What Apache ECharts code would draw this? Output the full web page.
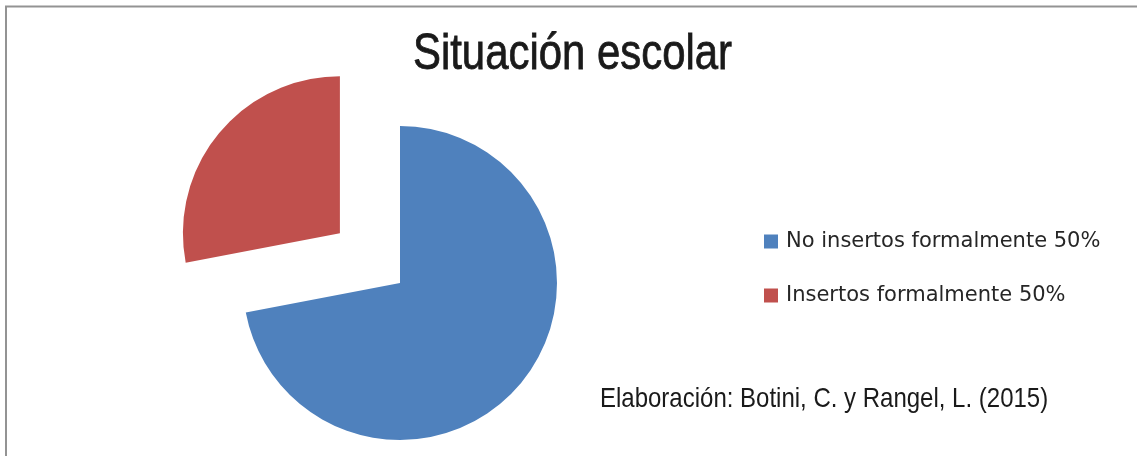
<!DOCTYPE html>
<html>
<head>
<meta charset="utf-8">
<script src="https://cdn.jsdelivr.net/npm/echarts@6/dist/echarts.min.js"></script>
<style>
html,body{margin:0;padding:0;background:#fff;}
#chart{width:1137px;height:456px;}
</style>
</head>
<body>
<div id="chart"></div>
<script>
const titleText = "Situación escolar";
const categories = ["No insertos formalmente 50%", "Insertos formalmente 50%"];
const values = [72, 28];
const colors = ["#4F81BD", "#C0504D"];
const explodedIndex = 1;
const sourceNote = "Elaboración: Botini, C. y Rangel, L. (2015)";

const sans = '"Liberation Sans", Arial, sans-serif';

const chart = echarts.init(document.getElementById('chart'), null, {renderer: 'canvas'});
chart.setOption({
  animation: false,
  backgroundColor: '#ffffff',
  legend: {
    orient: 'vertical',
    left: 764, top: 231,
    padding: 0,
    icon: 'rect', itemWidth: 14, itemHeight: 14,
    itemGap: 33,
    selectedMode: false,
    data: categories,
    textStyle: {fontFamily: '"DejaVu Sans", sans-serif', fontSize: 21, lineHeight: 21, color: '#262626', padding: [0,0,0,3]}
  },
  graphic: [
    {type: 'rect', shape: {x: 6, y: 6.5, width: 1150, height: 470}, style: {fill: 'none', stroke: '#939393', lineWidth: 2}, silent: true, z: -1},
    {type: 'text', x: 572.5, y: 55.5, scaleX: 0.838, silent: true,
      style: {text: titleText, x: 0, y: 0, align: 'center', verticalAlign: 'middle', font: 'normal 50px ' + sans, fill: '#1a1a1a', stroke: '#1a1a1a', lineWidth: 0.8}},
    {type: 'text', x: 600, y: 399, scaleX: 0.857, silent: true,
      style: {text: sourceNote, x: 0, y: 0, align: 'left', verticalAlign: 'middle', font: 'normal 28px ' + sans, fill: '#1a1a1a'}}
  ],
  series: [{
    type: 'pie',
    center: [400, 283],
    radius: 157,
    startAngle: 90,
    clockwise: true,
    selectedMode: 'single',
    selectedOffset: 78,
    label: {show: false},
    labelLine: {show: false},
    emphasis: {disabled: true},
    itemStyle: {borderWidth: 0},
    data: categories.map((c, i) => ({
      name: c, value: values[i],
      selected: i === explodedIndex,
      itemStyle: {color: colors[i]}
    }))
  }]
});
</script>
</body>
</html>
